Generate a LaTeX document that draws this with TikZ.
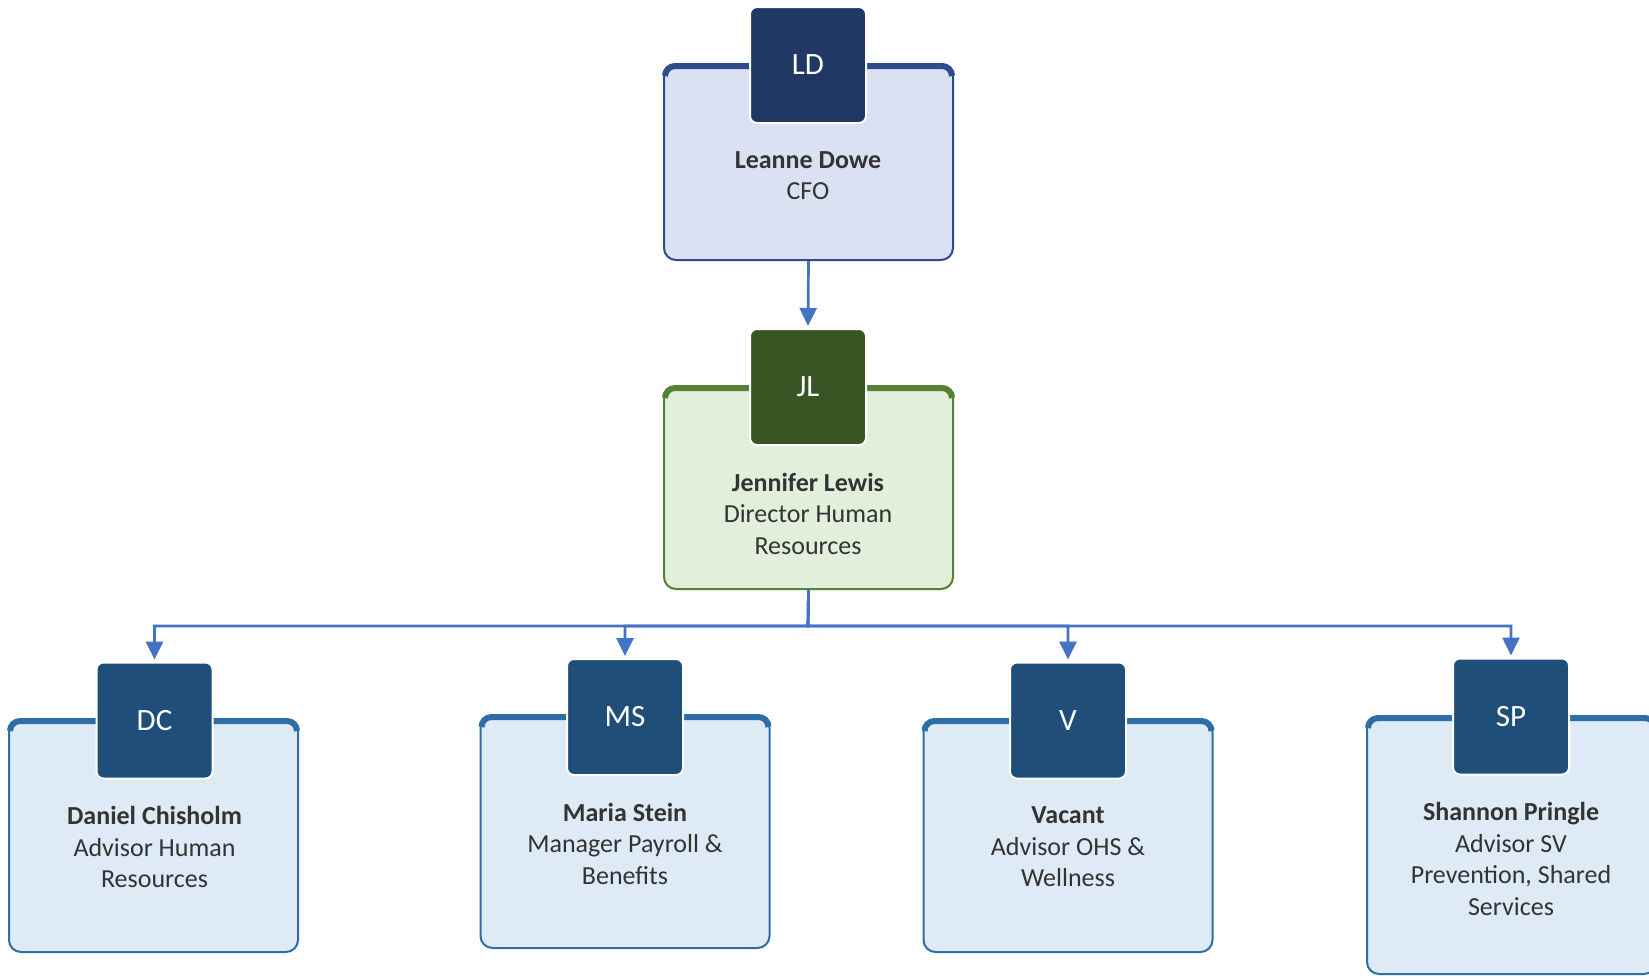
\documentclass[tikz,border=0pt]{standalone}
\usepackage{fontspec}
\setmainfont{Carlito}
\usetikzlibrary{arrows.meta}

\definecolor{ldsquare}{HTML}{203864}
\definecolor{ldfill}{HTML}{DAE1F3}
\definecolor{ldline}{HTML}{2F4B8C}
\definecolor{jlsquare}{HTML}{375623}
\definecolor{jlfill}{HTML}{E2EFDA}
\definecolor{jlline}{HTML}{548235}
\definecolor{hrsquare}{HTML}{1F4E79}
\definecolor{hrfill}{HTML}{DEEAF6}
\definecolor{hrline}{HTML}{2E6DA6}
\definecolor{linkblue}{HTML}{4472C4}
\definecolor{textgray}{HTML}{333333}

\begin{document}
\begin{tikzpicture}[x=1pt, y=-1pt,
	personbox/.style={rectangle, rounded corners=12pt, line width=2pt, minimum width=289pt, inner sep=0pt},
	initials/.style={rectangle, rounded corners=7pt, draw=white, line width=2pt, minimum size=116pt, inner sep=0pt, text=white, font=\fontsize{31}{37}\selectfont},
	nametext/.style={anchor=north, align=center, inner sep=0pt, text=textgray, font=\fontsize{26}{31.5}\selectfont},
	reportline/.style={draw=linkblue, line width=2.7pt, shorten >=2pt, -{Triangle[width=17pt,length=18pt]}}]

	% Page size (1 px = 1 pt, y grows downwards)
	\useasboundingbox (0,0) rectangle (1649,978);

	% Boxes of the people
	\node[personbox, fill=ldfill, draw=ldline, minimum height=195pt] (LDbox) at (808.5,162.5) {};
	\node[personbox, fill=jlfill, draw=jlline, minimum height=202pt] (JLbox) at (808.5,488) {};
	\node[personbox, fill=hrfill, draw=hrline, minimum height=232pt] (DCbox) at (153.5,836) {};
	\node[personbox, fill=hrfill, draw=hrline, minimum height=232pt] (MSbox) at (625,832) {};
	\node[personbox, fill=hrfill, draw=hrline, minimum height=232pt] (Vbox) at (1068,836) {};
	\node[personbox, fill=hrfill, draw=hrline, minimum height=257pt] (SPbox) at (1511.5,845.5) {};

	% Thick upper edge of each box (kept on the inner side of the outline)
	\foreach \b/\c in {LDbox/ldline, JLbox/jlline, DCbox/hrline, MSbox/hrline, Vbox/hrline, SPbox/hrline} {
		\draw[\c, line width=6pt, rounded corners=10pt] ([shift={(2pt,-12pt)}]\b.north west) -- ([shift={(2pt,-2pt)}]\b.north west) -- ([shift={(-2pt,-2pt)}]\b.north east) -- ([shift={(-2pt,-12pt)}]\b.north east);
	}

	% Squares with the initials
	\node[initials, fill=ldsquare] (LD) at (808,65) {LD};
	\node[initials, fill=jlsquare] (JL) at (808,387) {JL};
	\node[initials, fill=hrsquare] (DC) at (154.5,720.5) {DC};
	\node[initials, fill=hrsquare] (MS) at (625,717) {MS};
	\node[initials, fill=hrsquare] (V) at (1068,720.5) {V};
	\node[initials, fill=hrsquare] (SP) at (1511,716.5) {SP};

	% Names and job titles
	\node[nametext] (LDtext) at ([yshift=-27pt]LD.south) {\textbf{Leanne Dowe}\\CFO};
	\node[nametext] (JLtext) at ([yshift=-27pt]JL.south) {\textbf{Jennifer Lewis}\\Director Human\\Resources};
	\node[nametext] (DCtext) at ([yshift=-27pt]DC.south) {\textbf{Daniel Chisholm}\\Advisor Human\\Resources};
	\node[nametext] (MStext) at ([yshift=-27pt]MS.south) {\textbf{Maria Stein}\\Manager Payroll \&\\Benefits};
	\node[nametext] (Vtext) at ([yshift=-27pt]V.south) {\textbf{Vacant}\\Advisor OHS \&\\Wellness};
	\node[nametext] (SPtext) at ([yshift=-27pt]SP.south) {\textbf{Shannon Pringle}\\Advisor SV\\Prevention, Shared\\Services};

	% Reporting lines
	\coordinate (bus) at (808,626);
	\draw[reportline] (LDbox.south) -- (JL.north);
	\draw[reportline] (JLbox.south) -- (bus) -| (DC.north);
	\draw[reportline] (JLbox.south) -- (bus) -| (MS.north);
	\draw[reportline] (JLbox.south) -- (bus) -| (V.north);
	\draw[reportline] (JLbox.south) -- (bus) -| (SP.north);
\end{tikzpicture}
\end{document}
